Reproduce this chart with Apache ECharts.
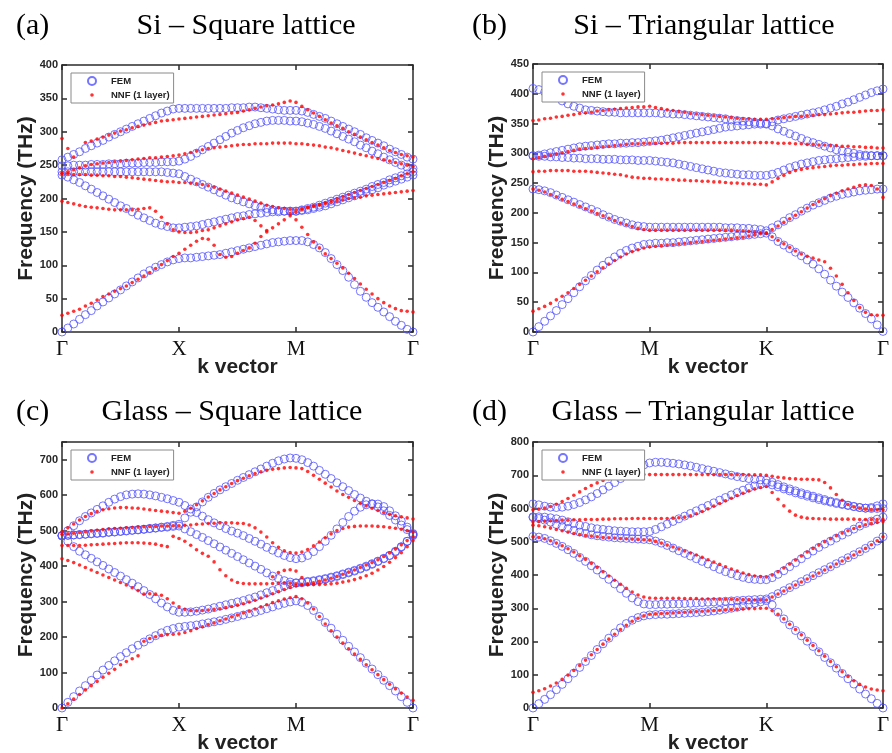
<!DOCTYPE html>
<html><head><meta charset="utf-8">
<script src="https://cdn.jsdelivr.net/npm/echarts/dist/echarts.min.js"></script>
<style>html,body{margin:0;padding:0;background:#fff}#chart{width:892px;height:753px}</style>
</head><body><div id="chart"></div>
<script>
// ---------- sample positions along the k path (0..3, Γ→X/M→M/K→Γ) ----------
const kPoints = [0,0.05,0.1,0.15,0.2,0.25,0.3,0.35,0.4,0.45,0.5,0.55,0.6,0.65,0.7,0.75,0.8,0.85,0.9,0.95,
  1,1.05,1.1,1.15,1.2,1.25,1.3,1.35,1.4,1.45,1.5,1.55,1.6,1.65,1.7,1.75,1.8,1.85,1.9,1.95,
  2,2.05,2.1,2.15,2.2,2.25,2.3,2.35,2.4,2.45,2.5,2.55,2.6,2.65,2.7,2.75,2.8,2.85,2.9,2.95,3];

// ---------- tick labels ----------
const squareTicks = ['Γ','X','M','Γ'];
const triTicks = ['Γ','M','K','Γ'];
const legendNames = ['FEM','NNF (1 layer)'];
const panelTags = ['(a)','(b)','(c)','(d)'];
const panelTitles = ['Si – Square lattice','Si – Triangular lattice','Glass – Square lattice','Glass – Triangular lattice'];
const yMaxes = [400, 450, 750, 800];
const ySteps = [50, 50, 100, 100];

// ---------- (a) Si square: FEM bands ----------
const siSqFem1 = [0,6,12,19,26,32,39,45,51,57,63,69,75,81,87,92,97,101,105,108,110,
  111,111,112,113,114,115,116,118,120,122,124,126,128,130,132,134,135,136,137,137,
  137,135,131,126,119,110,101,92,82,71,61,52,44,37,30,23,16,10,4,0];
const siSqFem2 = [235,232,228,224,219,214,209,204,199,194,189,185,180,175,171,167,163,160,158,156,156,
  157,158,159,161,163,165,167,169,171,173,174,176,177,178,179,180,180,181,181,181,
  182,183,185,187,189,192,195,198,201,204,207,210,213,216,220,223,226,229,232,235];
const siSqFem3 = [240,240,240,240,240,240,240,240,240,240,240,240,240,240,240,240,240,240,239,238,237,
  233,229,225,221,217,213,209,205,201,198,195,192,189,187,185,183,182,181,181,181,
  183,185,187,190,193,196,199,202,205,208,211,214,218,221,224,228,231,234,237,240];
const siSqFem4 = [249,249,250,250,250,251,251,251,252,252,252,253,253,253,254,254,254,255,255,255,256,
  259,263,268,273,278,283,288,293,298,302,306,309,312,314,316,317,317,317,316,316,
  315,313,311,308,305,301,297,293,289,285,280,276,271,267,262,258,254,250,247,245];
const siSqFem5 = [258,262,266,270,275,279,283,287,292,296,300,304,308,312,316,320,324,328,331,334,335,
  335,335,335,335,335,335,335,335,336,336,336,337,337,336,335,334,333,332,332,332,
  331,329,326,323,320,316,312,308,304,300,296,291,287,283,279,274,270,266,262,259];
// ---------- (a) Si square: NNF curves ----------
const siSqNnf1 = [25,28,31,34,39,43,48,53,57,61,65,69,74,79,84,89,95,101,107,113,118,
  124,130,136,140,139,130,116,112,113,118,122,126,133,143,150,156,162,168,174,179,
  183,186,188,190,192,194,196,198,200,201,202,204,205,206,207,208,209,210,211,212];
const siSqNnf2 = [null,null,null,null,null,null,null,null,null,null,null,null,null,null,null,null,null,null,null,null,null,
  null,null,null,null,null,null,null,null,null,null,null,null,null,null,null,null,null,null,178,168,
  157,146,135,126,117,110,103,96,88,80,72,64,57,50,44,39,35,32,31,30];
const siSqNnf3 = [196,194,192,190,188,187,186,185,184,183,183,183,183,184,185,186,181,172,162,153,150,
  149,149,150,152,153,156,159,162,165,168,170,172,167,159,152,null,null,null,null,null,
  null,null,null,null,null,null,null,null,null,null,null,null,null,null,null,null,null,null,null,null];
const siSqNnf4 = [237,237,236,236,236,235,235,234,234,233,233,232,231,230,229,228,227,226,225,225,224,
  224,223,222,221,219,217,214,211,208,205,202,199,196,193,190,188,186,185,184,183,
  185,187,189,191,194,197,200,203,206,209,212,215,218,221,224,227,230,234,237,240];
const siSqNnf5 = [238,240,243,246,249,251,252,253,254,255,256,257,258,259,260,261,261,262,263,264,265,
  267,269,271,273,275,276,277,278,279,280,281,281,282,282,282,283,283,283,283,282,
  282,281,280,279,277,276,274,272,270,268,266,264,262,260,258,256,254,252,250,248];
const siSqNnf6 = [290,275,262,null,284,286,289,292,295,298,301,303,306,308,310,312,314,316,317,318,319,
  320,321,322,323,324,325,326,327,328,329,331,333,335,337,339,340,342,344,346,344,
  338,333,328,323,318,313,309,305,300,296,292,288,284,280,276,272,269,266,264,262];

// ---------- (b) Si triangular: FEM bands ----------
const siTriFem1 = [0,9,18,27,36,46,56,66,76,86,95,104,112,119,126,132,137,141,144,147,148,
  149,149,150,150,151,152,153,154,155,156,157,158,159,160,161,162,163,164,165,166,
  160,152,146,140,134,128,121,114,106,97,87,77,67,58,49,40,31,22,12,1];
const siTriFem2 = [240,239,237,234,230,226,222,218,214,210,206,202,197,193,189,186,183,180,178,177,176,
  176,176,176,176,176,176,176,176,176,176,176,176,175,175,175,174,174,173,172,170,
  175,180,186,192,197,203,208,213,217,221,225,228,231,233,235,237,238,239,240,240];
const siTriFem3 = [296,295,295,294,294,293,293,292,292,291,291,291,290,290,290,289,289,289,288,288,288,
  287,286,285,284,282,280,278,276,274,272,270,268,267,266,265,264,264,263,263,263,
  265,268,272,276,279,282,284,286,288,289,290,291,292,293,294,295,295,296,296,296];
const siTriFem4 = [296,297,299,301,303,305,307,309,311,312,313,314,315,316,316,317,317,318,318,319,320,
  321,322,324,326,328,330,332,334,336,338,340,342,344,345,346,347,348,349,349,349,
  346,341,337,333,329,325,321,318,315,312,309,306,304,302,300,298,297,296,296,296];
const siTriFem5 = [409,407,403,399,394,388,383,379,376,373,372,371,370,369,369,368,368,368,368,368,368,
  368,367,367,366,366,365,364,363,362,361,360,359,358,356,355,354,353,352,351,350,
  353,356,358,360,362,364,366,368,370,373,376,379,383,386,390,394,398,402,405,408];
// ---------- (b) Si triangular: NNF curves ----------
const siTriNnf1 = [35,39,43,48,54,60,66,73,80,87,94,101,108,114,120,126,131,135,138,141,143,
  144,145,146,147,148,149,150,151,152,153,154,155,156,157,158,159,161,163,165,166,
  160,154,148,142,136,131,127,124,121,118,107,94,80,66,53,41,33,29,28,28];
const siTriNnf2 = [240,238,235,231,227,223,219,215,211,207,203,199,195,191,187,183,180,177,174,172,171,
  171,171,171,171,171,171,171,171,171,171,171,171,171,171,170,170,169,168,167,166,
  172,178,184,190,196,202,208,214,219,224,229,233,237,240,243,246,247,246,240,226];
const siTriNnf3 = [269,270,270,271,271,271,271,270,270,270,269,268,267,266,265,264,262,260,259,258,258,
  257,257,256,256,255,255,254,254,253,253,252,252,251,250,250,249,249,248,248,247,
  252,258,263,268,271,273,275,276,277,278,279,280,280,281,281,282,282,283,283,283];
const siTriNnf4 = [291,293,295,297,299,301,303,305,307,308,309,310,311,312,313,314,315,316,316,317,317,
  317,317,317,317,318,318,318,318,318,318,318,318,318,318,318,318,318,318,318,318,
  318,317,317,317,316,316,315,315,314,314,313,313,312,312,311,311,310,310,309,309];
const siTriNnf5 = [355,356,358,359,361,362,364,365,367,368,369,371,372,373,374,375,376,377,378,378,379,
  377,375,373,372,370,369,367,366,365,364,363,362,361,360,359,358,358,357,357,357,
  358,359,360,361,362,362,363,364,365,365,366,367,368,369,369,370,371,372,372,373];

// ---------- (c) Glass square: FEM bands ----------
const glSqFem1 = [0,16,32,48,63,78,93,107,120,133,145,156,167,177,186,195,204,212,219,224,228,
  230,232,234,237,240,243,246,250,254,258,262,266,270,275,280,285,290,295,299,302,
  298,289,275,258,241,225,208,191,174,158,142,126,110,94,78,63,48,32,16,0];
const glSqFem2 = [486,470,455,442,432,422,412,402,392,382,372,362,352,342,331,320,308,296,285,275,270,
  270,271,273,276,279,283,287,291,295,299,303,308,313,319,325,331,337,343,348,352,
  353,355,357,360,363,367,371,376,381,386,392,398,405,413,421,430,442,455,470,486];
const glSqFem3 = [486,487,488,489,490,492,493,494,496,497,498,500,501,503,504,506,507,509,510,512,513,
  505,497,489,481,472,463,454,445,436,427,418,409,400,391,381,372,365,359,355,353,
  355,357,359,362,365,369,373,378,383,388,394,400,407,414,422,430,440,454,470,488];
const glSqFem4 = [486,500,514,528,540,550,560,570,580,589,596,601,603,604,603,601,598,594,590,585,580,
  571,561,551,541,531,522,514,506,499,493,486,478,470,462,453,445,437,430,424,421,
  423,430,441,455,470,487,505,523,540,555,566,573,576,575,568,556,542,527,510,492];
const glSqFem5 = [486,487,488,489,490,491,492,493,495,496,498,499,501,502,504,506,508,510,512,515,518,
  536,552,567,581,594,605,615,624,633,642,650,658,666,674,682,690,697,702,705,704,
  700,692,682,670,659,647,635,624,613,602,592,583,575,567,556,543,530,516,503,490];
// ---------- (c) Glass square: NNF curves ----------
const glSqNnf1 = [0,12,25,38,51,63,75,87,98,109,122,131,139,147,188,196,201,205,207,208,209,
  213,218,224,229,235,240,246,251,257,262,268,273,279,285,291,297,302,307,311,314,
  308,296,279,258,237,218,200,183,167,152,137,122,108,94,80,67,54,42,31,22];
const glSqNnf2 = [421,416,410,403,396,389,382,375,368,361,354,347,339,331,321,322,321,318,308,296,285,
  278,275,274,275,276,278,280,283,286,290,294,299,304,310,316,322,328,334,340,345,
  347,350,353,357,361,366,371,377,383,389,396,403,410,418,427,437,448,460,472,483];
const glSqNnf3 = [458,458,458,458,459,460,461,462,463,464,465,466,466,466,465,464,462,458,455,484,478,
  470,459,446,436,428,412,390,373,361,354,351,350,350,350,350,351,352,353,352,350,
  349,348,348,348,349,350,352,355,358,362,367,373,380,389,399,411,424,438,455,472];
const glSqNnf4 = [null,null,null,null,null,null,null,null,null,null,null,null,null,null,null,null,null,null,null,null,null,
  null,null,null,null,null,null,null,null,null,null,null,null,null,null,null,370,382,388,390,
  386,368,null,null,null,null,null,null,null,null,null,null,null,null,null,null,null,null,null,null];
const glSqNnf5 = [490,491,493,495,497,499,501,503,505,506,507,508,509,510,511,512,512,513,513,514,514,
  515,516,518,519,520,521,522,522,522,521,520,516,508,496,482,466,453,443,438,437,
  440,447,457,468,480,491,500,506,510,512,513,513,513,512,511,509,507,504,500,496];
const glSqNnf6 = [497,508,519,530,540,548,554,559,562,564,565,565,564,563,561,559,557,555,553,551,549,
  555,563,573,584,595,605,615,624,633,641,648,655,661,666,670,673,675,677,678,677,
  675,667,656,645,634,623,612,602,594,585,577,570,563,557,551,546,542,539,536,533];

// ---------- (d) Glass triangular: FEM bands ----------
const glTriFem1 = [0,13,26,40,55,71,88,105,122,140,158,176,193,210,226,241,254,264,272,277,280,
  281,282,282,283,284,285,286,287,288,290,292,294,297,300,303,307,311,315,319,323,
  310,288,268,250,233,217,201,185,169,152,136,120,104,88,72,57,42,28,14,0];
const glTriFem2 = [516,514,510,503,495,486,476,465,453,441,428,415,401,387,373,359,345,331,320,313,311,
  311,312,312,313,313,314,315,316,317,318,319,320,321,322,323,324,325,326,327,328,
  335,344,353,362,371,380,389,398,407,416,425,434,443,452,461,470,480,490,502,515];
const glTriFem3 = [573,570,565,559,552,546,540,534,529,525,521,518,516,514,512,511,510,509,508,507,506,
  502,496,489,481,473,465,457,449,441,433,425,417,410,404,398,393,389,387,386,386,
  392,402,413,425,437,449,461,472,483,493,502,511,520,529,538,547,555,562,568,574];
const glTriFem4 = [575,575,574,572,569,565,560,555,550,546,542,539,537,535,533,532,531,530,530,530,531,
  537,545,553,561,569,577,585,593,601,609,617,625,633,641,648,655,662,668,672,676,
  671,665,659,653,647,642,637,632,627,623,619,615,612,609,606,603,601,600,600,600];
const glTriFem5 = [614,611,607,604,603,604,607,612,618,626,635,645,656,667,678,690,702,713,723,731,737,
  739,739,738,736,734,731,728,724,720,716,712,708,704,700,696,693,690,688,686,685,
  679,672,665,659,653,647,642,637,632,627,622,618,614,610,606,603,601,603,608,614];
// ---------- (d) Glass triangular: NNF curves ----------
const glTriNnf1 = [47,52,58,66,75,86,99,113,128,144,160,176,192,207,222,236,249,261,270,277,282,
  283,284,285,286,287,288,289,290,291,292,293,294,295,296,297,298,299,299,300,300,
  293,282,268,252,236,220,204,188,172,156,140,124,109,95,82,71,63,57,54,52];
const glTriNnf2 = [515,513,509,503,496,488,479,469,458,447,435,423,410,397,384,372,360,349,340,334,331,
  330,330,330,330,330,329,329,329,328,328,328,327,327,327,326,326,326,325,325,325,
  334,343,352,361,370,379,388,397,406,415,424,433,442,451,460,470,480,491,503,515];
const glTriNnf3 = [550,548,545,541,537,533,529,525,522,519,517,515,513,512,511,510,509,508,507,506,505,
  501,496,490,484,478,472,466,460,453,446,439,432,425,418,412,406,401,397,395,394,
  400,410,421,433,445,457,469,480,490,500,509,518,526,533,540,546,551,555,558,561];
const glTriNnf4 = [560,561,562,563,564,565,565,566,566,567,567,567,568,568,569,569,569,570,570,570,570,
  570,570,570,571,572,574,578,584,591,599,607,615,623,631,639,646,653,659,663,666,
  648,628,608,592,580,574,571,570,569,569,568,568,568,568,568,567,567,567,567,567];
const glTriNnf5 = [596,598,601,606,613,621,630,640,650,660,669,677,684,690,694,697,699,700,701,702,702,
  702,702,702,702,702,702,702,702,702,702,702,702,702,702,702,702,701,701,701,700,
  697,694,692,690,689,688,688,687,686,678,662,642,625,612,605,601,598,597,596,596];

// ---------- grouping ----------
const femSets = [
  [siSqFem1, siSqFem2, siSqFem3, siSqFem4, siSqFem5],
  [siTriFem1, siTriFem2, siTriFem3, siTriFem4, siTriFem5],
  [glSqFem1, glSqFem2, glSqFem3, glSqFem4, glSqFem5],
  [glTriFem1, glTriFem2, glTriFem3, glTriFem4, glTriFem5]
];
const nnfSets = [
  [siSqNnf1, siSqNnf2, siSqNnf3, siSqNnf4, siSqNnf5, siSqNnf6],
  [siTriNnf1, siTriNnf2, siTriNnf3, siTriNnf4, siTriNnf5],
  [glSqNnf1, glSqNnf2, glSqNnf3, glSqNnf4, glSqNnf5, glSqNnf6],
  [glTriNnf1, glTriNnf2, glTriNnf3, glTriNnf4, glTriNnf5]
];
const tickSets = [squareTicks, triTicks, squareTicks, triTicks];

// ---------- layout (positions / styles) ----------
const layout = [
  {left: 62, top: 65, width: 351, height: 267, tagX: 16, tagY: 11, titleX: 246, titleY: 11},
  {left: 533, top: 64, width: 350, height: 268, tagX: 472, tagY: 11, titleX: 704, titleY: 11},
  {left: 62, top: 442, width: 351, height: 266, tagX: 16, tagY: 397, titleX: 232, titleY: 397},
  {left: 533, top: 442, width: 350, height: 266, tagX: 472, tagY: 397, titleX: 703, titleY: 397}
];
const axisColor = '#2b2b2b';
const femColor = '#5252ff';
const nnfColor = '#ff0000';
const serif = '"Liberation Serif", "Times New Roman", serif';
const sans = '"Liberation Sans", Arial, sans-serif';

function toPoints(bands) {
  const pts = [];
  bands.forEach(b => b.forEach((v, i) => { if (v !== null) pts.push([kPoints[i], v]); }));
  return pts;
}

const option = {
  backgroundColor: '#fff',
  animation: false,
  title: [], grid: [], xAxis: [], yAxis: [], legend: [], series: []
};

layout.forEach((L, p) => {
  const ticks = tickSets[p];
  option.title.push({text: panelTags[p], left: L.tagX, top: L.tagY, padding: 0,
    textStyle: {fontFamily: serif, fontSize: 30, fontWeight: 'normal', color: '#000'}});
  option.title.push({text: panelTitles[p], left: L.titleX, top: L.titleY, padding: 0, textAlign: 'center',
    textStyle: {fontFamily: serif, fontSize: 30, fontWeight: 'normal', color: '#000'}});
  option.grid.push({left: L.left, top: L.top, width: L.width, height: L.height, containLabel: false, outerBoundsMode: 'none'});
  const lineSt = {color: axisColor, width: 1.5};
  option.xAxis.push({
    gridIndex: p, type: 'value', min: 0, max: 3, interval: 1, position: 'bottom',
    axisLine: {show: true, onZero: false, lineStyle: lineSt},
    axisTick: {show: true, inside: true, length: 5, lineStyle: lineSt},
    axisLabel: {show: true, margin: 7, formatter: v => ticks[Math.round(v)] || '',
      fontFamily: serif, fontSize: 21, color: '#111'},
    splitLine: {show: false},
    name: 'k vector', nameLocation: 'middle', nameGap: 25, nameMoveOverlap: false,
    nameTextStyle: {fontFamily: sans, fontWeight: 'bold', fontSize: 21, color: '#222'}
  });
  option.xAxis.push({
    gridIndex: p, type: 'value', min: 0, max: 3, interval: 1, position: 'top',
    axisLine: {show: true, onZero: false, lineStyle: lineSt},
    axisTick: {show: true, inside: true, length: 5, lineStyle: lineSt},
    axisLabel: {show: false}, splitLine: {show: false}
  });
  const step = ySteps[p];
  option.yAxis.push({
    gridIndex: p, type: 'value', min: 0, max: yMaxes[p], interval: step, position: 'left',
    axisLine: {show: true, onZero: false, lineStyle: lineSt},
    axisTick: {show: true, inside: true, length: 5, lineStyle: lineSt},
    axisLabel: {show: true, margin: 4, fontFamily: sans, fontWeight: 'bold', fontSize: 11, color: '#262626',
      formatter: v => (v % step === 0 ? String(v) : '')},
    splitLine: {show: false},
    name: 'Frequency (THz)', nameLocation: 'middle', nameGap: 25, nameMoveOverlap: false,
    nameTextStyle: {fontFamily: sans, fontWeight: 'bold', fontSize: 21, color: '#222'}
  });
  option.yAxis.push({
    gridIndex: p, type: 'value', min: 0, max: yMaxes[p], interval: step, position: 'right',
    axisLine: {show: true, onZero: false, lineStyle: lineSt},
    axisTick: {show: true, inside: true, length: 5, lineStyle: lineSt},
    axisLabel: {show: false}, splitLine: {show: false}
  });
  option.legend.push({
    left: L.left + 9, top: L.top + 8, orient: 'vertical',
    backgroundColor: '#fff', borderColor: '#8a8a8a', borderWidth: 1, borderRadius: 0,
    padding: [3, 4, 3, 16], itemGap: 4, itemWidth: 8, itemHeight: 8,
    selectedMode: false,
    textStyle: {fontFamily: sans, fontWeight: 'bold', fontSize: 9.5, color: '#222', padding: [0, 0, 0, 10]},
    data: [
      {name: legendNames[0], icon: 'circle'},
      {name: legendNames[1], icon: 'path://M0 0L0 0M8 8L8 8M4 2.2A1.8 1.8 0 1 1 3.999 2.2Z'}
    ]
  });
  option.series.push({
    type: 'scatter', name: legendNames[0], xAxisIndex: 2 * p, yAxisIndex: 2 * p,
    data: toPoints(femSets[p]), symbol: 'circle', symbolSize: 8, silent: true, z: 2,
    itemStyle: {color: 'rgba(0,0,0,0)', borderColor: femColor, borderWidth: 1}
  });
  option.series.push({
    type: 'scatter', name: legendNames[1], xAxisIndex: 2 * p, yAxisIndex: 2 * p,
    data: toPoints(nnfSets[p]), symbol: 'circle', symbolSize: 3.6, silent: true, z: 3,
    itemStyle: {color: nnfColor, borderWidth: 0}
  });
});

const chart = echarts.init(document.getElementById('chart'), null, {renderer: 'canvas'});
chart.setOption(option);
</script>
</body></html>
